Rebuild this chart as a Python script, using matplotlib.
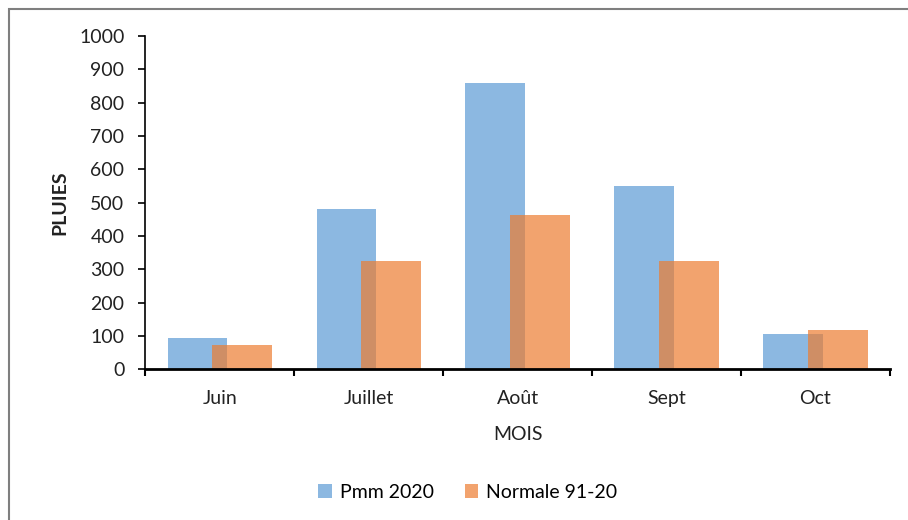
import numpy as np
import matplotlib.pyplot as plt
from matplotlib.patches import Rectangle

mois = ["Juin", "Juillet", "Août", "Sept", "Oct"]
pmm_2020 = [93, 480, 860, 550, 107]
normale_91_20 = [72, 324, 462, 324, 117]

plt.rcParams['font.family'] = ['Lato', 'DejaVu Sans']
fs = 14

fig = plt.figure(figsize=(9.08, 5.2), dpi=100)
ax = fig.add_axes([0.160, 0.290, 0.820, 0.641])

x = np.arange(len(mois))
w = 0.40
off = 0.15
ax.bar(x - off, pmm_2020, w, color='#5B9BD5', alpha=0.7, label='Pmm 2020')
ax.bar(x + off, normale_91_20, w, color='#ED7D31', alpha=0.7, label='Normale 91-20')

ax.set_xlim(-0.5, len(mois) - 0.5)
ax.set_ylim(0, 1000)
ax.set_yticks(np.arange(0, 1001, 100))
ax.set_xticks(np.arange(-0.5, len(mois)), minor=False)
ax.set_xticklabels([])
ax.set_xticks(x, minor=True)
ax.set_xticklabels(mois, minor=True)
ax.tick_params(axis='x', which='major', length=5, width=1.5, direction='out')
ax.tick_params(axis='x', which='minor', length=0, pad=15, labelsize=fs, colors='#222222')
ax.tick_params(axis='y', length=5, width=1.2, direction='out', pad=10,
               labelsize=fs, labelcolor='#222222')

for s in ['top', 'right']:
    ax.spines[s].set_visible(False)
ax.spines['left'].set_linewidth(1.2)
ax.spines['bottom'].set_linewidth(2)

ax.set_xlabel('MOIS', fontsize=fs, color='#222222', labelpad=14)
ax.set_ylabel('PLUIES', fontsize=fs, fontweight='bold', color='#222222', labelpad=8)

fig.legend(loc='center', bbox_to_anchor=(0.515, 0.053), ncol=2, frameon=False,
           fontsize=fs, handlelength=0.7, handleheight=0.7, handletextpad=0.4,
           columnspacing=1.6)

# outer chart frame
fig.patches.append(Rectangle((9 / 908, -0.1), 1.2, 1.1 - 9 / 520,
                             transform=fig.transFigure, fill=False,
                             edgecolor='#7f7f7f', linewidth=1.5))

fig.savefig('out.png', dpi=100)
